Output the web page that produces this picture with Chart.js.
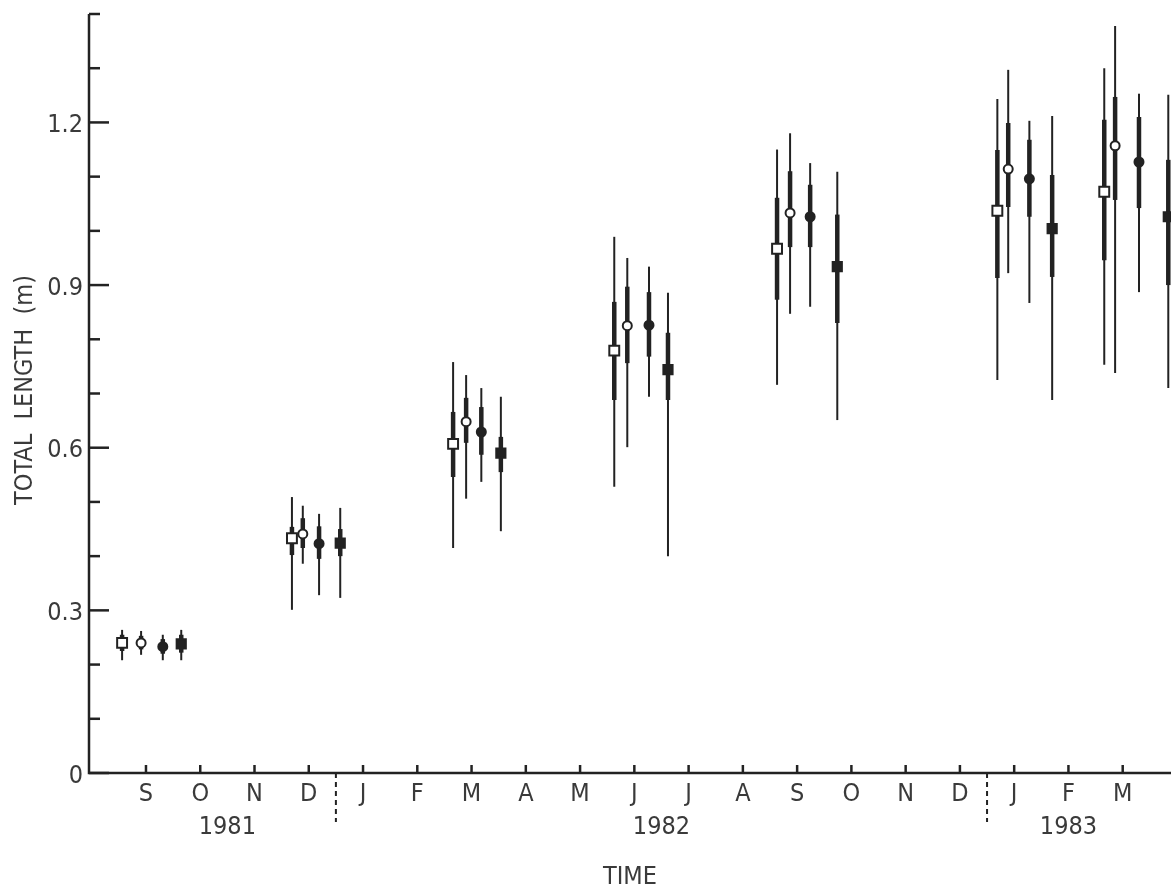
<!DOCTYPE html>
<html>
<head>
<meta charset="utf-8">
<script src="https://cdn.jsdelivr.net/npm/chart.js@4"></script>
<style>
	html, body { margin: 0; padding: 0; background: #fff; overflow: hidden; }
	#wrap { width: 1171px; height: 885px; position: relative; }
	canvas { display: block; }
</style>
</head>
<body>
<div id="wrap"><canvas id="c"></canvas></div>
<script>
// time axis in months since 1 Jan 1981 (mid-month ticks)
var monthLabels = ["S","O","N","D","J","F","M","A","M","J","J","A","S","O","N","D","J","F","M"];
var monthTicks = [8.5,9.5,10.5,11.5,12.5,13.5,14.5,15.5,16.5,17.5,18.5,19.5,20.5,21.5,22.5,23.5,24.5,25.5,26.5];
var yearLabels = ["1981","1982","1983"];
var yearLabelAt = [10.0, 18.0, 25.5];
var yearBreaks = [12, 24];
var yTicks = [0,0.1,0.2,0.3,0.4,0.5,0.6,0.7,0.8,0.9,1.0,1.1,1.2,1.3,1.4];
var yLabelled = [0, 0.3, 0.6, 0.9, 1.2];

// open squares
var sqOpenX    = [8.06, 11.19, 14.16, 17.13, 20.13, 24.19, 26.16];
var sqOpenMean = [0.240, 0.433, 0.607, 0.779, 0.967, 1.037, 1.072];
var sqOpenSdLo = [0.225, 0.402, 0.546, 0.688, 0.873, 0.913, 0.946];
var sqOpenSdHi = [0.255, 0.454, 0.666, 0.869, 1.061, 1.149, 1.205];
var sqOpenMin  = [0.208, 0.301, 0.415, 0.528, 0.716, 0.725, 0.753];
var sqOpenMax  = [0.264, 0.509, 0.758, 0.989, 1.150, 1.243, 1.300];

// open circles
var ciOpenX    = [8.41, 11.39, 14.40, 17.37, 20.37, 24.39, 26.36];
var ciOpenMean = [0.240, 0.441, 0.648, 0.825, 1.033, 1.114, 1.157];
var ciOpenSdLo = [0.228, 0.415, 0.609, 0.756, 0.970, 1.044, 1.057];
var ciOpenSdHi = [0.253, 0.470, 0.692, 0.897, 1.110, 1.199, 1.247];
var ciOpenMin  = [0.218, 0.386, 0.506, 0.601, 0.847, 0.922, 0.738];
var ciOpenMax  = [0.262, 0.493, 0.734, 0.950, 1.180, 1.297, 1.378];

// filled circles
var ciFillX    = [8.81, 11.69, 14.68, 17.77, 20.74, 24.78, 26.80];
var ciFillMean = [0.233, 0.423, 0.629, 0.826, 1.026, 1.096, 1.127];
var ciFillSdLo = [0.220, 0.395, 0.587, 0.768, 0.970, 1.026, 1.042];
var ciFillSdHi = [0.247, 0.455, 0.675, 0.887, 1.085, 1.168, 1.210];
var ciFillMin  = [0.208, 0.328, 0.537, 0.694, 0.860, 0.867, 0.887];
var ciFillMax  = [0.255, 0.478, 0.710, 0.934, 1.125, 1.203, 1.253];

// filled squares
var sqFillX    = [9.15, 12.08, 15.04, 18.12, 21.24, 25.20, 27.34];
var sqFillMean = [0.238, 0.424, 0.590, 0.744, 0.934, 1.004, 1.026];
var sqFillSdLo = [0.222, 0.400, 0.555, 0.688, 0.830, 0.915, 0.900];
var sqFillSdHi = [0.255, 0.450, 0.620, 0.812, 1.030, 1.103, 1.131];
var sqFillMin  = [0.208, 0.323, 0.446, 0.400, 0.651, 0.688, 0.710];
var sqFillMax  = [0.264, 0.489, 0.694, 0.886, 1.109, 1.212, 1.251];

var INK = "#222";
var TXT = "#3a3a3a";
var FONT = "'Liberation Sans Narrow', 'DejaVu Sans Condensed', 'Liberation Sans', sans-serif";

function points(xs, ys, lo, hi, mn, mx) {
	return xs.map(function(x, i) {
		return { x: x, y: ys[i], sdLo: lo[i], sdHi: hi[i], min: mn[i], max: mx[i] };
	});
}

function series(label, data, style, fill, r) {
	return {
		label: label,
		data: data,
		pointStyle: style,
		pointRadius: r,
		pointHoverRadius: r,
		pointBackgroundColor: fill,
		pointBorderColor: INK,
		pointBorderWidth: 2,
		showLine: false
	};
}

var bars = {
	id: "bars",
	beforeDatasetsDraw: function(chart) {
		var ctx = chart.ctx, xs = chart.scales.x, ys = chart.scales.y;
		ctx.save();
		ctx.strokeStyle = INK;
		chart.data.datasets.forEach(function(ds) {
			ds.data.forEach(function(p) {
				var px = xs.getPixelForValue(p.x);
				ctx.lineWidth = 2;
				ctx.beginPath();
				ctx.moveTo(px, ys.getPixelForValue(p.min));
				ctx.lineTo(px, ys.getPixelForValue(p.max));
				ctx.stroke();
				ctx.lineWidth = 4.5;
				ctx.beginPath();
				ctx.moveTo(px, ys.getPixelForValue(p.sdLo));
				ctx.lineTo(px, ys.getPixelForValue(p.sdHi));
				ctx.stroke();
			});
		});
		ctx.restore();
	},
	afterDraw: function(chart) {
		var ctx = chart.ctx, xs = chart.scales.x, ys = chart.scales.y;
		var a = chart.chartArea;
		ctx.save();
		ctx.strokeStyle = INK;
		ctx.lineWidth = 2.5;
		// axes
		ctx.beginPath();
		ctx.moveTo(a.left, a.top);
		ctx.lineTo(a.left, a.bottom);
		ctx.lineTo(chart.width, a.bottom);
		ctx.stroke();
		// y ticks
		ctx.fillStyle = TXT;
		ctx.font = "25px " + FONT;
		ctx.textAlign = "right";
		ctx.textBaseline = "middle";
		yTicks.forEach(function(v) {
			var py = ys.getPixelForValue(v);
			var major = yLabelled.indexOf(v) >= 0;
			ctx.beginPath();
			ctx.moveTo(a.left, py);
			ctx.lineTo(a.left + (major ? 20 : 11), py);
			ctx.stroke();
			if (major) ctx.fillText(v === 0 ? "0" : v.toFixed(1), a.left - 6, py + 3);
		});
		// x ticks
		ctx.textAlign = "center";
		monthTicks.forEach(function(m, i) {
			var px = xs.getPixelForValue(m);
			ctx.beginPath();
			ctx.moveTo(px, a.bottom);
			ctx.lineTo(px, a.bottom - 8);
			ctx.stroke();
			ctx.fillText(monthLabels[i], px, a.bottom + 21);
		});
		yearLabels.forEach(function(t, i) {
			ctx.fillText(t, xs.getPixelForValue(yearLabelAt[i]), a.bottom + 54);
		});
		// year separators
		ctx.lineWidth = 2;
		ctx.setLineDash([5, 4]);
		yearBreaks.forEach(function(m) {
			var px = xs.getPixelForValue(m);
			ctx.beginPath();
			ctx.moveTo(px, a.bottom);
			ctx.lineTo(px, a.bottom + 49);
			ctx.stroke();
		});
		ctx.setLineDash([]);
		// axis titles
		ctx.fillText("TIME", 630, 877);
		ctx.translate(25, 390);
		ctx.rotate(-Math.PI / 2);
		ctx.fillText("TOTAL  LENGTH  (m)", 0, 0);
		ctx.restore();
	}
};

var ctx = document.getElementById("c").getContext("2d");
new Chart(ctx, {
	type: "scatter",
	data: {
		datasets: [
			series("open squares", points(sqOpenX, sqOpenMean, sqOpenSdLo, sqOpenSdHi, sqOpenMin, sqOpenMax), "rect", "#fff", 7),
			series("open circles", points(ciOpenX, ciOpenMean, ciOpenSdLo, ciOpenSdHi, ciOpenMin, ciOpenMax), "circle", "#fff", 4.5),
			series("filled circles", points(ciFillX, ciFillMean, ciFillSdLo, ciFillSdHi, ciFillMin, ciFillMax), "circle", INK, 4.5),
			series("filled squares", points(sqFillX, sqFillMean, sqFillSdLo, sqFillSdHi, sqFillMin, sqFillMax), "rect", INK, 6.5)
		]
	},
	options: {
		responsive: true,
		maintainAspectRatio: false,
		animation: false,
		layout: { autoPadding: false, padding: { left: 89, right: 0, top: 14, bottom: 112 } },
		plugins: { legend: { display: false }, tooltip: { enabled: false } },
		scales: {
			x: { type: "linear", display: false, min: 7.45, max: 27.39 },
			y: { type: "linear", display: false, min: 0, max: 1.4 }
		}
	},
	plugins: [bars]
});
</script>
</body>
</html>
